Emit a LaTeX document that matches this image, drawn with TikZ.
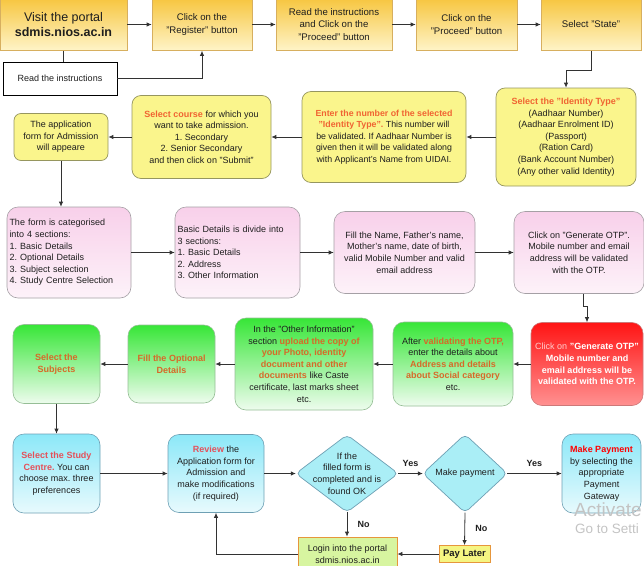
\documentclass[tikz,border=0pt]{standalone}
\usepackage{fontspec}
\setmainfont{Liberation Sans}
\usetikzlibrary{arrows.meta,backgrounds}
\frenchspacing
\definecolor{txt}{RGB}{30,30,30}
\definecolor{lnC}{RGB}{50,50,50}
\definecolor{topT}{RGB}{247,198,64}
\definecolor{topL}{RGB}{254,244,200}
\definecolor{topB}{RGB}{215,175,95}
\definecolor{yF}{RGB}{250,245,140}
\definecolor{yB}{RGB}{150,150,95}
\definecolor{pT}{RGB}{248,208,234}
\definecolor{pL}{RGB}{253,242,249}
\definecolor{pB}{RGB}{165,160,165}
\definecolor{gT}{RGB}{55,230,55}
\definecolor{gL}{RGB}{238,252,238}
\definecolor{gB}{RGB}{150,190,150}
\definecolor{rT}{RGB}{255,20,20}
\definecolor{rL}{RGB}{255,145,145}
\definecolor{rB}{RGB}{205,120,120}
\definecolor{cT}{RGB}{140,232,248}
\definecolor{cL}{RGB}{232,250,253}
\definecolor{cB}{RGB}{110,160,180}
\definecolor{dF}{RGB}{170,238,246}
\definecolor{lgF}{RGB}{215,245,160}
\definecolor{plF}{RGB}{245,245,130}
\definecolor{oB}{RGB}{230,150,60}
\definecolor{hlO}{RGB}{240,100,50}
\definecolor{hlG}{RGB}{215,105,40}
\definecolor{hlR}{RGB}{228,80,90}
\definecolor{wm}{RGB}{195,195,195}
\newcommand{\hO}[1]{{\color{hlO}\bfseries #1}}
\newcommand{\hG}[1]{{\color{hlG}\bfseries #1}}
\newcommand{\hR}[1]{{\color{hlR}\bfseries #1}}
\tikzset{
  base/.style={align=center, inner sep=2pt, text=txt, font=\fontsize{9}{11.6}\selectfont},
  topbox/.style={base, draw=topB, line width=0.6pt, top color=topT, bottom color=topL,
    minimum height=52pt, font=\fontsize{9.6}{12.4}\selectfont},
  ybox/.style={base, draw=yB, line width=0.7pt, fill=yF, rounded corners=9pt},
  pbox/.style={base, draw=pB, line width=0.6pt, top color=pT, bottom color=pL, rounded corners=11pt},
  gbox/.style={base, draw=gB, line width=0.6pt, top color=gT, bottom color=gL, rounded corners=11pt},
  rbox/.style={base, draw=rB, line width=0.6pt, top color=rT, bottom color=rL, rounded corners=11pt, text=white},
  cbox/.style={base, draw=cB, line width=0.6pt, top color=cT, bottom color=cL, rounded corners=11pt},
  dtext/.style={base, inner sep=0pt},
  dshape/.style={draw=cB, line width=0.7pt, fill=dF, rounded corners=5pt},
  arr/.style={draw=lnC, line width=0.8pt, -{Latex[length=5pt,width=4.5pt]}},
  ln/.style={draw=lnC, line width=0.8pt},
  lbl/.style={text=txt, font=\fontsize{9}{11}\selectfont\bfseries},
}
\begin{document}
\begin{tikzpicture}[x=1pt,y=-1pt]
\useasboundingbox (0,0) rectangle (644,565);
\clip (0,0) rectangle (644,565);

% Row 1
\node[topbox, minimum width=127pt, font=\fontsize{12.5}{15.5}\selectfont] (A) at (63.5,24.5) {Visit the portal\\\textbf{sdmis.nios.ac.in}};
\node[topbox, minimum width=100pt] (B) at (202,24.5) {Click on the\\"Register" button};
\node[topbox, minimum width=116pt] (C) at (334,24.5) {Read the instructions\\and Click on the\\"Proceed" button};
\node[topbox, minimum width=101pt] (D) at (466.5,24.5) {Click on the\\"Proceed" button};
\node[topbox, minimum width=100pt] (E) at (591,24.5) {Select "State"};
\node[base, draw=black, line width=0.7pt, fill=white, minimum width=114pt, minimum height=33pt] (instr) at (60,78.5) {Read the instructions};

% Row 2
\node[ybox, minimum width=140pt, minimum height=98pt] (id) at (566,137) {\hO{Select the "Identity Type"}\\(Aadhaar Number)\\(Aadhaar Enrolment ID)\\(Passport)\\(Ration Card)\\(Bank Account Number)\\(Any other valid Identity)};
\node[ybox, minimum width=164pt, minimum height=91pt, font=\fontsize{8.8}{11.6}\selectfont] (enter) at (384,137) {\hO{Enter the number of the selected}\\\hO{"Identity Type".} This number will\\be validated. If Aadhaar Number is\\given then it will be validated along\\with Applicant's Name from UIDAI.};
\node[ybox, minimum width=139pt, minimum height=83pt] (course) at (201.5,137) {\hO{Select course} for which you\\want to take admission.\\1. Secondary\\2. Senior Secondary\\and then click on "Submit"};
\node[ybox, minimum width=94pt, minimum height=47pt, rounded corners=7pt] (app) at (61,137) {The application\\form for Admission\\will appeare};

% Row 3
\node[pbox, minimum width=124pt, minimum height=91pt, align=left, text width=119pt] (form) at (69,252.5) {The form is categorised\\into 4 sections:\\1. Basic Details\\2. Optional Details\\3. Subject selection\\4. Study Centre Selection};
\node[pbox, minimum width=125pt, minimum height=91pt, align=left, text width=120pt] (basic) at (237.5,252.5) {Basic Details is divide into\\3 sections:\\1. Basic Details\\2. Address\\3. Other Information};
\node[pbox, minimum width=141pt, minimum height=82pt] (fill) at (404.5,252.5) {Fill the Name, Father's name,\\Mother's name, date of birth,\\valid Mobile Number and valid\\email address};
\node[pbox, minimum width=130pt, minimum height=82pt] (otp) at (579,252.5) {Click on "Generate OTP".\\Mobile number and email\\address will be validated\\with the OTP.};

% Row 4
\node[rbox, minimum width=112pt, minimum height=83pt] (red) at (587,364) {{\color{red!20}Click on} \textbf{"Generate OTP"}\\\textbf{Mobile number and}\\\textbf{email address will be}\\\textbf{validated with the OTP.}};
\node[gbox, minimum width=120pt, minimum height=84pt] (after) at (453,364) {After \hG{validating the OTP,}\\enter the details about\\\hG{Address and details}\\\hG{about Social category}\\etc.};
\node[gbox, minimum width=138pt, minimum height=92pt] (other) at (304,364) {In the "Other Information"\\section \hG{upload the copy of}\\\hG{your Photo, identity}\\\hG{document and other}\\\hG{documents} like Caste\\certificate, last marks sheet\\etc.};
\node[gbox, minimum width=87pt, minimum height=78pt] (opt) at (171.5,364) {\hG{Fill the Optional}\\\hG{Details}};
\node[gbox, minimum width=87pt, minimum height=79pt] (subj) at (56.5,364) {\hG{Select the}\\\hG{Subjects}};

% Row 5
\node[cbox, minimum width=87pt, minimum height=79pt] (study) at (56.5,473.5) {\hR{Select the Study}\\\hR{Centre.} You can\\choose max. three\\preferences};
\node[cbox, minimum width=96pt, minimum height=78pt] (review) at (216,473.5) {\hR{Review} the\\Application form for\\Admission and\\make modifications\\(if required)};
\node[dtext, minimum width=102pt, minimum height=77pt] (d1) at (347,473.5) {If the\\filled form is\\completed and is\\found OK};
\node[dtext, minimum width=84pt, minimum height=78pt] (d2) at (465,473.5) {Make payment};
\node[cbox, minimum width=79pt, minimum height=79pt] (mp) at (601.5,473.5) {{\color{red}\bfseries Make Payment}\\by selecting the\\appropriate\\Payment\\Gateway};
\node[base, draw=oB, line width=0.8pt, fill=lgF, minimum width=99pt, minimum height=34pt] (login) at (347.5,554) {Login into the portal\\sdmis.nios.ac.in};
\node[base, draw=oB, line width=0.8pt, fill=plF, minimum width=51pt, minimum height=17pt, inner sep=1pt, font=\fontsize{9.5}{11}\selectfont\bfseries] (pl) at (464.5,554) {Pay Later};

\begin{scope}[on background layer]
  \path[dshape] (d1.north) -- (d1.east) -- (d1.south) -- (d1.west) -- cycle;
  \path[dshape] (d2.north) -- (d2.east) -- (d2.south) -- (d2.west) -- cycle;
\end{scope}

% Watermark
\node[anchor=west, inner sep=0pt, text=wm, font=\fontsize{19}{20}\selectfont] (wm1) at (574,510) {Activate};
\node[anchor=west, inner sep=0pt, text=wm, font=\fontsize{13.5}{15}\selectfont] (wm2) at (575,529) {Go to Setti};

% Connectors
\draw[arr] (A) -- (B);
\draw[arr] (B) -- (C);
\draw[arr] (C) -- (D);
\draw[arr] (D) -- (E);
\draw[ln] (A.south) -- (A.south |- instr.north);
\draw[arr] (instr.east) -| (B.south);
\draw[arr] (E.south) -- ++(0,20) -| (id.north);
\draw[arr] (id) -- (enter);
\draw[arr] (enter) -- (course);
\draw[arr] (course) -- (app);
\draw[arr] (app.south) -- (app.south |- form.north);
\draw[arr] (form) -- (basic);
\draw[arr] (basic) -- (fill);
\draw[arr] (fill) -- (otp);
\draw[arr] ([xshift=4pt]otp.south) -- ++(0,13) -| (red.north);
\draw[arr] (red) -- (after);
\draw[arr] (after) -- (other);
\draw[arr] (other) -- (opt);
\draw[arr] (opt) -- (subj);
\draw[arr] (subj) -- (study);
\draw[arr] (study) -- (review);
\draw[arr] (review) -- (d1.west);
\draw[arr] (d1.east) -- node[lbl, above=3pt] {Yes} (d2.west);
\draw[arr] (d2.east) -- node[lbl, above=3pt] {Yes} (mp);
\draw[arr] (d1.south) -- node[lbl, right=7pt] {No} (d1.south |- login.north);
\draw[arr] (d2.south) -- node[lbl, right=7pt] {No} (pl.north);
\draw[arr] (pl) -- (login);
\draw[arr] (login.west) -| (review.south);
\end{tikzpicture}
\end{document}
